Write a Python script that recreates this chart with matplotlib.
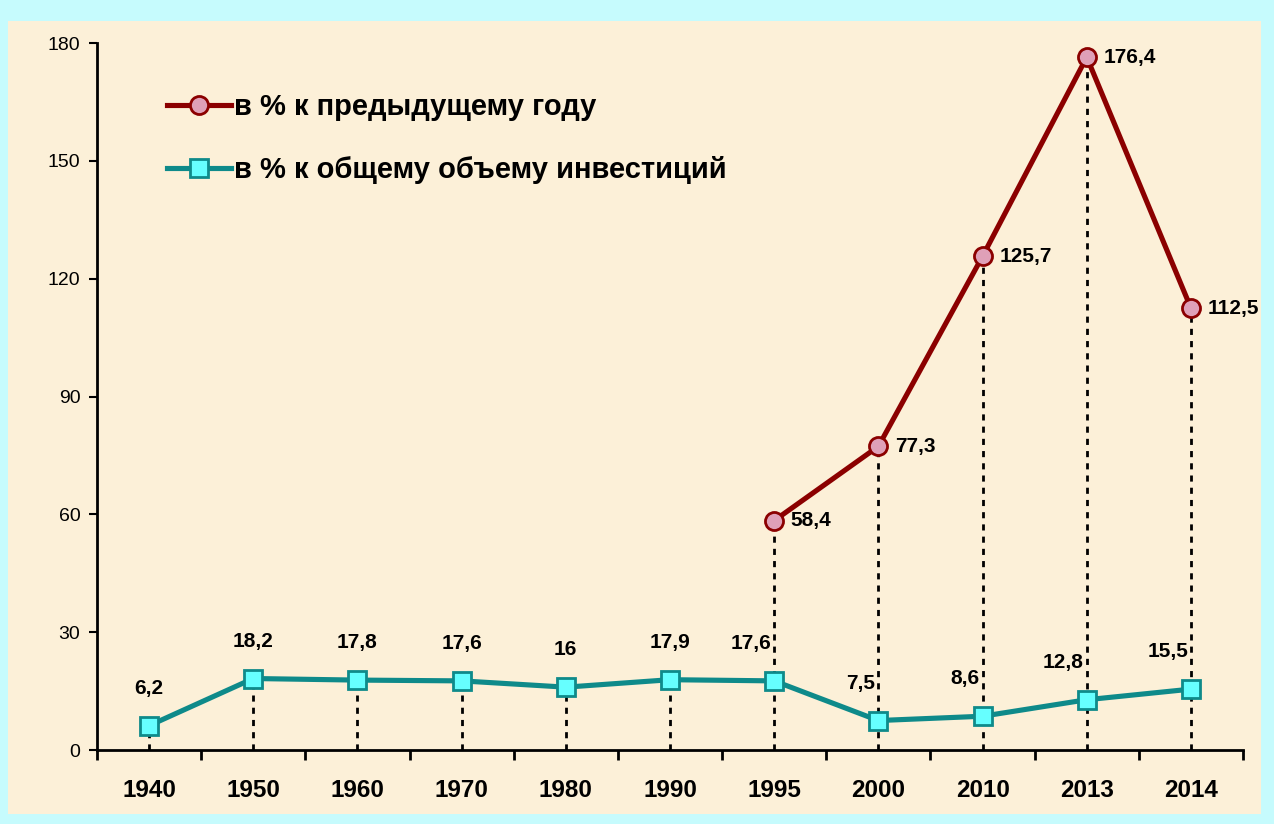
import matplotlib.pyplot as plt
from matplotlib.patches import Rectangle
import numpy as np

plt.rcParams['font.family'] = ['Liberation Sans', 'DejaVu Sans']

years = ['1940', '1950', '1960', '1970', '1980', '1990', '1995', '2000', '2010', '2013', '2014']
prev_year = [np.nan, np.nan, np.nan, np.nan, np.nan, np.nan, 58.4, 77.3, 125.7, 176.4, 112.5]
share_total = [6.2, 18.2, 17.8, 17.6, 16, 17.9, 17.6, 7.5, 8.6, 12.8, 15.5]
share_labels = ['6,2', '18,2', '17,8', '17,6', '16', '17,9', '17,6', '7,5', '8,6', '12,8', '15,5']
prev_labels = ['', '', '', '', '', '', '58,4', '77,3', '125,7', '176,4', '112,5']

red = '#8B0000'
teal = '#0E8A8A'

fig = plt.figure(figsize=(12.74, 8.24), dpi=100)
fig.patch.set_facecolor('#C6FBFD')
# cream panel
fig.add_artist(Rectangle((0.006, 0.012), 0.984, 0.962, transform=fig.transFigure,
                         facecolor='#FCF0D8', edgecolor='none', zorder=0))

ax = fig.add_axes([0.0761, 0.0898, 0.8996, 0.858])
ax.set_facecolor('none')
x = np.arange(len(years))

# dotted drop lines
for i in x:
    top = prev_year[i] if not np.isnan(prev_year[i]) else share_total[i]
    ax.plot([i, i], [0, top], color='black', lw=2, ls=(0, (2.2, 2.2)), zorder=1)

ax.plot(x, prev_year, color=red, lw=3.7, marker='o', ms=13,
        mfc='#DFA0B8', mec=red, mew=2, zorder=3, label='в % к предыдущему году')
ax.plot(x, share_total, color=teal, lw=3.7, marker='s', ms=13,
        mfc='#66FFFF', mec=teal, mew=2, zorder=3, label='в % к общему объему инвестиций')

for i in x:
    if prev_labels[i]:
        ax.annotate(prev_labels[i], (i, prev_year[i]), xytext=(12, 0), textcoords='offset points',
                    ha='left', va='center', fontsize=15, fontweight='bold')
    if i >= 6:
        ax.annotate(share_labels[i], (i, share_total[i]), xytext=(-2, 27), textcoords='offset points',
                    ha='right', va='center', fontsize=15, fontweight='bold')
    else:
        ax.annotate(share_labels[i], (i, share_total[i]), xytext=(0, 27), textcoords='offset points',
                    ha='center', va='center', fontsize=15, fontweight='bold')

ax.set_xlim(-0.5, len(years) - 0.5)
ax.set_ylim(0, 180)
ax.set_yticks(np.arange(0, 181, 30))
ax.set_xticks(x)
ax.set_xticklabels(years, fontsize=17.5, fontweight='bold')
ax.set_xticks(np.arange(-0.5, len(years), 1), minor=True)
ax.tick_params(axis='x', which='major', length=0, pad=21)
ax.tick_params(axis='x', which='minor', length=7, width=2, direction='out')
ax.tick_params(axis='y', labelsize=14, length=6, width=1.5, direction='out', pad=6)

for s in ['top', 'right']:
    ax.spines[s].set_visible(False)
ax.spines['left'].set_linewidth(2)
ax.spines['bottom'].set_linewidth(2)

leg = ax.legend(loc='upper left', bbox_to_anchor=(0.038, 0.966), frameon=False,
                prop={'size': 21, 'weight': 'bold'}, handlelength=2.2, handletextpad=0.1,
                labelspacing=1.2)

fig.savefig('out.png', dpi=100, facecolor=fig.get_facecolor())
